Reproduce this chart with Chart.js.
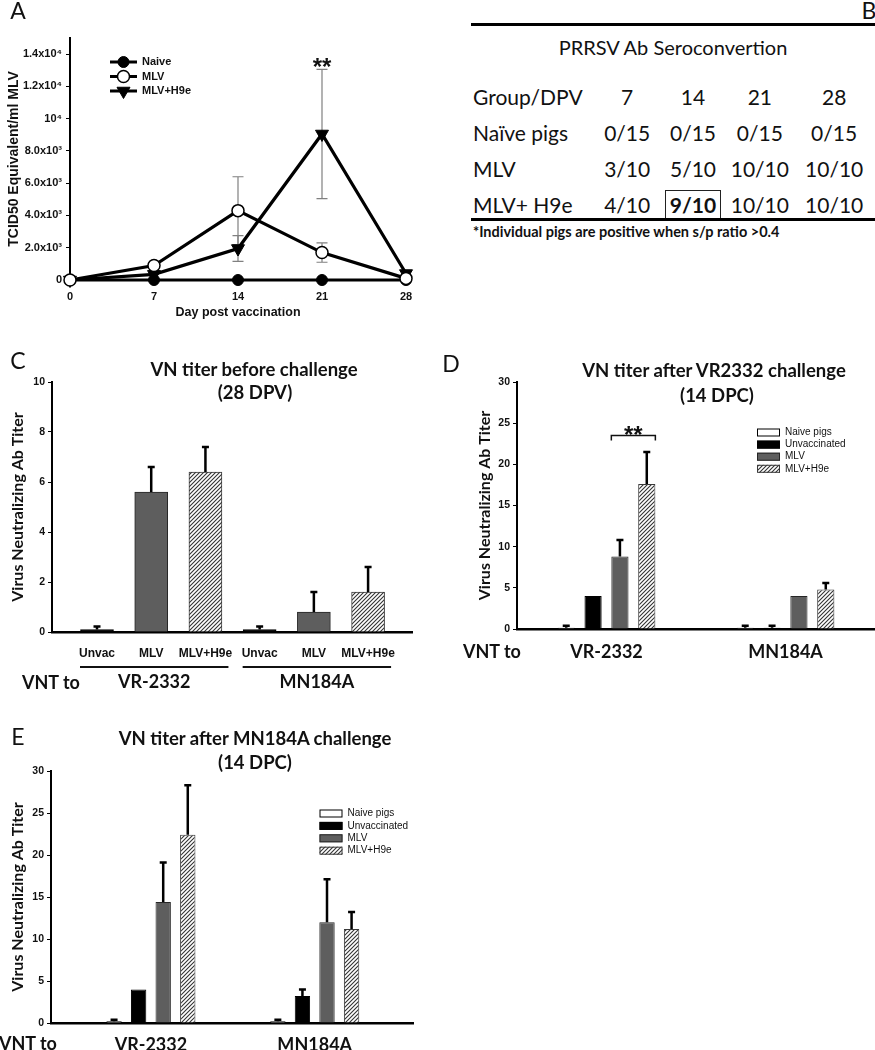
<!DOCTYPE html>
<html>
<head>
<meta charset="utf-8">
<script src="https://cdn.jsdelivr.net/npm/chart.js@4.4.1/dist/chart.umd.min.js"></script>
<style>
	body { margin: 0; background: #fff; }
	#page { position: relative; width: 875px; height: 1050px; overflow: hidden; background: #fff; }
	canvas { position: absolute; }
	.t { position: absolute; white-space: nowrap; transform: translate(-50%, -50%); line-height: 1; color: #111; font-family: Lato, "Open Sans", sans-serif; }
	.lt { transform: translate(0, -50%); }
	.letter { font-size: 23px; }
	.ttl { font-size: 18.5px; font-weight: bold; }
	.vnt { font-size: 18px; font-weight: bold; }
	.rule { position: absolute; background: #000; height: 3px; }
	#tblB { position: absolute; left: 471px; top: 79px; border-collapse: collapse; font-family: Lato, "Open Sans", sans-serif; font-size: 21px; color: #111; }
	#tblB td { height: 36px; padding: 0; text-align: center; line-height: 36px; }
	#tblB td.g { text-align: left; padding-left: 2px; }
	#tblB span.box { display: inline-block; border: 1.5px solid #222; padding: 0 4px; line-height: 28px; font-weight: bold; }
</style>
</head>
<body>
<div id="page">
	<canvas id="chartA" width="440" height="330" style="left:0;top:0"></canvas>
	<canvas id="chartC" width="440" height="360" style="left:0;top:340px"></canvas>
	<canvas id="chartD" width="435" height="360" style="left:440px;top:340px"></canvas>
	<canvas id="chartE" width="440" height="350" style="left:0;top:700px"></canvas>

	<div class="t letter" style="left:18px;top:10px">A</div>
	<div class="t letter" style="left:869px;top:10px">B</div>
	<div class="t letter" style="left:18px;top:360px">C</div>
	<div class="t letter" style="left:451px;top:363px">D</div>
	<div class="t letter" style="left:18px;top:736px">E</div>

	<div class="rule" style="left:471px;top:23px;width:404px"></div>
	<div class="t" style="left:673px;top:47px;font-size:20px">PRRSV Ab Seroconvertion</div>
	<table id="tblB">
		<colgroup><col style="width:124px"><col style="width:65px"><col style="width:67px"><col style="width:67px"><col style="width:82px"></colgroup>
		<tbody id="tblBody"></tbody>
	</table>
	<div class="rule" style="left:471px;top:218px;width:404px"></div>
	<div class="t lt" style="left:473px;top:232px;font-size:14.5px;font-weight:bold">*Individual pigs are positive when s/p ratio &gt;0.4</div>

	<div class="t ttl" style="left:254px;top:369px">VN titer before challenge</div>
	<div class="t ttl" style="left:255px;top:392px">(28 DPV)</div>
	<div class="t ttl" style="left:714px;top:370px">VN titer after VR2332 challenge</div>
	<div class="t ttl" style="left:717px;top:395px">(14 DPC)</div>
	<div class="t ttl" style="left:255px;top:738px">VN titer after MN184A challenge</div>
	<div class="t ttl" style="left:255px;top:762px">(14 DPC)</div>

	<div class="t lt vnt" style="left:22px;top:682px">VNT to</div>
	<div class="t lt vnt" style="left:463px;top:651px">VNT to</div>
	<div class="t lt vnt" style="left:-1px;top:1043px">VNT to</div>
</div>
<script>
	// ---- A: viremia after vaccination
	var aDays = [0, 7, 14, 21, 28];
	var aNaive = [0, 0, 0, 0, 0];
	var aMLV = [0, 900, 4300, 1700, 100];
	var aMLVErr = [0, 0, 2100, 600, 0];
	var aH9e = [0, 350, 1950, 9050, 400];
	var aH9eErr = [0, 0, 800, 4000, 0];
	var aYTicks = [0, 2000, 4000, 6000, 8000, 10000, 12000, 14000];
	var aYLabels = ['0', '2.0x10³', '4.0x10³', '6.0x10³', '8.0x10³', '10⁴', '1.2x10⁴', '1.4x10⁴'];

	// ---- B: seroconversion table
	var bDays = ['7', '14', '21', '28'];
	var bGroups = ['Naïve pigs', 'MLV', 'MLV+ H9e'];
	var bCounts = [
		['0/15', '0/15', '0/15', '0/15'],
		['3/10', '5/10', '10/10', '10/10'],
		['4/10', '9/10', '10/10', '10/10']
	];
	var bBoxed = [2, 1]; // row, column of the boxed cell

	// ---- C: VN titer before challenge
	var cLabels = ['Unvac', 'MLV', 'MLV+H9e', 'Unvac', 'MLV', 'MLV+H9e'];
	var cKinds = ['unvac', 'mlv', 'h9e', 'unvac', 'mlv', 'h9e'];
	var cGroups = ['VR-2332', 'MN184A'];
	var cValues = [0.1, 5.6, 6.4, 0.1, 0.8, 1.6];
	var cErrors = [0.12, 1.0, 1.0, 0.12, 0.8, 1.0];

	// ---- D: after VR2332 challenge
	var dGroups = ['VR-2332', 'MN184A'];
	var dNaive = [0.15, 0.15];
	var dNaiveErr = [0.25, 0.25];
	var dUnvac = [4.0, 0.15];
	var dUnvacErr = [0, 0.25];
	var dMLV = [8.8, 4.0];
	var dMLVErr = [2.0, 0];
	var dH9e = [17.6, 4.8];
	var dH9eErr = [3.9, 0.8];

	// ---- E: after MN184A challenge
	var eGroups = ['VR-2332', 'MN184A'];
	var eNaive = [0.2, 0.2];
	var eNaiveErr = [0.2, 0.2];
	var eUnvac = [4.0, 3.2];
	var eUnvacErr = [0, 0.8];
	var eMLV = [14.4, 12.0];
	var eMLVErr = [4.7, 5.1];
	var eH9e = [22.4, 11.2];
	var eH9eErr = [5.9, 2.0];

	var seriesNames = ['Naive pigs', 'Unvaccinated', 'MLV', 'MLV+H9e'];

	var tickFont = 'Arial, "Liberation Sans", sans-serif';
	var textFont = 'Lato, "Open Sans", sans-serif';

	Chart.defaults.animation = false;
	Chart.defaults.responsive = false;
	Chart.defaults.events = [];
	Chart.defaults.plugins.legend.display = false;
	Chart.defaults.plugins.tooltip.enabled = false;

	function makeHatch() {
		var c = document.createElement('canvas');
		c.width = 4;
		c.height = 4;
		var g = c.getContext('2d');
		g.fillStyle = '#fff';
		g.fillRect(0, 0, 4, 4);
		g.strokeStyle = '#333';
		g.lineWidth = 1.1;
		g.beginPath();
		g.moveTo(0, 4); g.lineTo(4, 0);
		g.moveTo(-1, 1); g.lineTo(1, -1);
		g.moveTo(3, 5); g.lineTo(5, 3);
		g.stroke();
		return g.createPattern(c, 'repeat');
	}

	var barStyles = {
		naive: { bg: '#ffffff', border: '#000000' },
		unvac: { bg: '#000000', border: '#000000' },
		mlv: { bg: '#5e5e5e', border: '#262626' },
		h9e: { bg: makeHatch(), border: '#3a3a3a' }
	};

	function val(d) {
		return (d !== null && typeof d === 'object') ? d.y : d;
	}

	// error bars: 'both' = thin grey whiskers (line chart), 'up' = thick black upper bar
	function drawErrors(chart, mode) {
		var ctx = chart.ctx, ys = chart.scales.y;
		chart.data.datasets.forEach(function (ds, di) {
			if (!ds.errors || ds.errorMode !== mode) return;
			var meta = chart.getDatasetMeta(di);
			ctx.save();
			ctx.strokeStyle = mode === 'both' ? '#808080' : '#000';
			ctx.lineWidth = mode === 'both' ? 1.2 : 2.5;
			var cap = mode === 'both' ? 5.5 : 3.5;
			meta.data.forEach(function (el, i) {
				var e = ds.errors[i];
				if (!e) return;
				var v = val(ds.data[i]);
				var top = ys.getPixelForValue(v + e);
				var bot = ys.getPixelForValue(mode === 'both' ? v - e : v);
				ctx.beginPath();
				ctx.moveTo(el.x, top); ctx.lineTo(el.x, bot);
				ctx.moveTo(el.x - cap, top); ctx.lineTo(el.x + cap, top);
				if (mode === 'both') {
					ctx.moveTo(el.x - cap, bot); ctx.lineTo(el.x + cap, bot);
				}
				ctx.stroke();
			});
			ctx.restore();
		});
	}

	var errorBars = {
		id: 'errorBars',
		beforeDatasetsDraw: function (chart) { drawErrors(chart, 'both'); },
		afterDatasetsDraw: function (chart) { drawErrors(chart, 'up'); }
	};

	function drawStars(ctx, x, y) {
		ctx.save();
		ctx.fillStyle = '#111';
		ctx.font = 'bold 24px ' + tickFont;
		ctx.textAlign = 'center';
		ctx.textBaseline = 'alphabetic';
		ctx.fillText('**', x, y + 13.8);
		ctx.restore();
	}

	var barLegend = {
		id: 'barLegend',
		afterDraw: function (chart, args, opts) {
			var ctx = chart.ctx;
			ctx.save();
			ctx.font = '10px ' + tickFont;
			ctx.textBaseline = 'middle';
			chart.data.datasets.forEach(function (ds, i) {
				var y = opts.top + i * opts.gap;
				ctx.fillStyle = ds.backgroundColor;
				ctx.fillRect(opts.left, y - 4, 23, 8);
				ctx.strokeStyle = ds.borderColor;
				ctx.lineWidth = 1;
				ctx.strokeRect(opts.left + 0.5, y - 3.5, 22, 7);
				ctx.fillStyle = '#111';
				ctx.fillText(ds.label, opts.left + 28, y);
			});
			ctx.restore();
		}
	};

	function yAxis(max, step, width, title, titlePad) {
		return {
			min: 0,
			max: max,
			ticks: { stepSize: step, padding: 3, color: '#111', font: { family: tickFont, weight: 'bold', size: 10.5 } },
			grid: { drawOnChartArea: false, tickLength: 4, tickColor: '#000', color: '#000' },
			border: { color: '#000', width: 2 },
			title: {
				display: true, text: title, color: '#111',
				font: { family: textFont, weight: 'bold', size: 16 },
				padding: { top: titlePad, bottom: 0 }
			},
			afterFit: function (s) { s.width = width; }
		};
	}

	function barSet(label, kind, values, errs, asPoints) {
		return {
			label: label,
			data: asPoints ? values.map(function (v, i) { return { x: i + 1, y: v }; }) : values,
			errors: errs,
			errorMode: 'up',
			backgroundColor: barStyles[kind].bg,
			borderColor: barStyles[kind].border,
			borderWidth: 1
		};
	}

	// ================= A =================
	function pts(values) {
		return aDays.map(function (d, i) { return { x: d, y: values[i] }; });
	}

	var aLegend = {
		id: 'aLegend',
		afterDraw: function (chart, args, opts) {
			var ctx = chart.ctx;
			ctx.save();
			ctx.font = 'bold 11px ' + tickFont;
			ctx.textBaseline = 'middle';
			chart.data.datasets.forEach(function (ds, i) {
				var y = opts.top + i * opts.gap;
				ctx.strokeStyle = '#000';
				ctx.lineWidth = 3;
				ctx.beginPath();
				ctx.moveTo(opts.left, y);
				ctx.lineTo(opts.left + 27, y);
				ctx.stroke();
				ctx.fillStyle = ds.pointBackgroundColor;
				ctx.strokeStyle = ds.pointBorderColor;
				ctx.lineWidth = ds.pointBorderWidth;
				Chart.helpers.drawPoint(ctx, {
					pointStyle: ds.pointStyle, rotation: ds.pointRotation || 0,
					radius: ds.pointRadius, borderWidth: ds.pointBorderWidth
				}, opts.left + 13.5, y);
				ctx.fillStyle = '#111';
				ctx.fillText(ds.label, opts.left + 32, y);
			});
			ctx.restore();
		}
	};

	var aStars = {
		id: 'aStars',
		afterDraw: function (chart) {
			var x = chart.scales.x.getPixelForValue(aDays[3]);
			var capY = chart.scales.y.getPixelForValue(aH9e[3] + aH9eErr[3]);
			drawStars(chart.ctx, x, capY - 8);
		}
	};

	new Chart(document.getElementById('chartA'), {
		type: 'line',
		data: {
			datasets: [
				{
					label: 'Naive', data: pts(aNaive), order: 1, clip: false,
					borderColor: '#000', borderWidth: 3.2,
					pointStyle: 'circle', pointRadius: 5.5, pointBackgroundColor: '#000',
					pointBorderColor: '#000', pointBorderWidth: 1
				},
				{
					label: 'MLV', data: pts(aMLV), errors: aMLVErr, errorMode: 'both', order: 0, clip: false,
					borderColor: '#000', borderWidth: 3.2,
					pointStyle: 'circle', pointRadius: 6, pointBackgroundColor: '#fff',
					pointBorderColor: '#000', pointBorderWidth: 1.5
				},
				{
					label: 'MLV+H9e', data: pts(aH9e), errors: aH9eErr, errorMode: 'both', order: 2, clip: false,
					borderColor: '#000', borderWidth: 3.2,
					pointStyle: 'triangle', pointRotation: 180, pointRadius: 7.5, pointBackgroundColor: '#000',
					pointBorderColor: '#000', pointBorderWidth: 1
				}
			]
		},
		options: {
			layout: { padding: { left: 0, top: 38, right: 34, bottom: 0 } },
			scales: {
				x: {
					type: 'linear', min: 0, max: 28,
					ticks: { stepSize: 7, padding: 2.5, color: '#111', font: { family: tickFont, weight: 'bold', size: 11 } },
					grid: { display: false },
					border: { color: '#000', width: 2 },
					title: {
						display: true, text: 'Day post vaccination', color: '#111',
						font: { family: tickFont, weight: 'bold', size: 12.5 }, padding: { top: 0, bottom: 10 }
					},
					afterFit: function (s) { s.height = 50; }
				},
				y: {
					min: 0, max: 15000,
					afterBuildTicks: function (s) { s.ticks = aYTicks.map(function (v) { return { value: v }; }); },
					ticks: {
						padding: 4, color: '#111', font: { family: tickFont, weight: 'bold', size: 11 },
						callback: function (v) { return aYLabels[aYTicks.indexOf(v)]; }
					},
					grid: { drawOnChartArea: false, tickLength: 4, tickColor: '#000', color: '#000' },
					border: { color: '#000', width: 2 },
					title: {
						display: true, text: 'TCID50 Equivalent/ml MLV', color: '#111',
						font: { family: tickFont, weight: 'bold', size: 14 }, padding: { top: 6, bottom: 0 }
					},
					afterFit: function (s) { s.width = 70; }
				}
			},
			plugins: { aLegend: { left: 110, top: 62, gap: 14.5 } }
		},
		plugins: [errorBars, aLegend, aStars]
	});

	// ================= B =================
	var body = document.getElementById('tblBody');
	var head = '<tr><td class="g">Group/DPV</td>' + bDays.map(function (d) { return '<td>' + d + '</td>'; }).join('') + '</tr>';
	var rows = bGroups.map(function (g, r) {
		return '<tr><td class="g">' + g + '</td>' + bCounts[r].map(function (c, k) {
			if (r === bBoxed[0] && k === bBoxed[1]) return '<td><span class="box">' + c + '</span></td>';
			return '<td>' + c + '</td>';
		}).join('') + '</tr>';
	});
	body.innerHTML = head + rows.join('');

	// ================= C =================
	var cGroupLines = {
		id: 'cGroupLines',
		afterDraw: function (chart) {
			var ctx = chart.ctx, xs = chart.scales.x;
			ctx.save();
			ctx.strokeStyle = '#111';
			ctx.fillStyle = '#111';
			ctx.lineWidth = 2;
			ctx.font = 'bold 18px ' + textFont;
			ctx.textAlign = 'center';
			ctx.textBaseline = 'middle';
			cGroups.forEach(function (g, k) {
				var x1 = xs.getPixelForValue(3 * k + 1) - 17;
				var x2 = xs.getPixelForValue(3 * k + 3) + 23;
				var yLine = chart.chartArea.bottom + 35;
				ctx.beginPath();
				ctx.moveTo(x1, yLine);
				ctx.lineTo(x2, yLine);
				ctx.stroke();
				ctx.fillText(g, (x1 + x2) / 2, yLine + 15);
			});
			ctx.restore();
		}
	};

	new Chart(document.getElementById('chartC'), {
		type: 'bar',
		data: {
			datasets: [{
				label: 'VN titer',
				data: cValues.map(function (v, i) { return { x: i + 1, y: v }; }),
				errors: cErrors,
				errorMode: 'up',
				backgroundColor: cKinds.map(function (k) { return barStyles[k].bg; }),
				borderColor: cKinds.map(function (k) { return barStyles[k].border; }),
				borderWidth: 1,
				barThickness: 33
			}]
		},
		options: {
			layout: { padding: { left: 0, top: 42, right: 28, bottom: 0 } },
			scales: {
				x: {
					type: 'linear', min: 0.17, max: 6.81, offset: false,
					afterBuildTicks: function (s) { s.ticks = cLabels.map(function (l, i) { return { value: i + 1 }; }); },
					ticks: {
						autoSkip: false, maxRotation: 0, padding: 6, color: '#111',
						font: { family: tickFont, weight: 'bold', size: 12 },
						callback: function (v, i) { return cLabels[i]; }
					},
					grid: { display: false },
					border: { color: '#000', width: 2.5 },
					afterFit: function (s) { s.height = 68; }
				},
				y: yAxis(10, 2, 52, 'Virus Neutralizing Ab Titer', 8.7)
			}
		},
		plugins: [errorBars, cGroupLines]
	});

	// ================= D =================
	var dStars = {
		id: 'dStars',
		afterDatasetsDraw: function (chart) {
			var ctx = chart.ctx;
			var a = chart.getDatasetMeta(2).data[0], b = chart.getDatasetMeta(3).data[0];
			var x1 = a.x - a.width / 2, x2 = b.x + b.width / 2;
			var y = chart.scales.y.getPixelForValue(23.5);
			ctx.save();
			ctx.strokeStyle = '#111';
			ctx.lineWidth = 1.5;
			ctx.beginPath();
			ctx.moveTo(x1, y + 5); ctx.lineTo(x1, y); ctx.lineTo(x2, y); ctx.lineTo(x2, y + 5);
			ctx.stroke();
			ctx.restore();
			drawStars(ctx, (x1 + x2) / 2, y - 6);
		}
	};

	new Chart(document.getElementById('chartD'), {
		type: 'bar',
		data: {
			labels: dGroups,
			datasets: [
				barSet(seriesNames[0], 'naive', dNaive, dNaiveErr),
				barSet(seriesNames[1], 'unvac', dUnvac, dUnvacErr),
				barSet(seriesNames[2], 'mlv', dMLV, dMLVErr),
				barSet(seriesNames[3], 'h9e', dH9e, dH9eErr)
			]
		},
		options: {
			categoryPercentage: 0.6,
			barPercentage: 0.64,
			layout: { padding: { left: 25, top: 42, right: 0, bottom: 0 } },
			scales: {
				x: {
					ticks: { padding: 3.9, color: '#111', font: { family: textFont, weight: 'bold', size: 18 } },
					grid: { display: false },
					border: { color: '#000', width: 2.5 },
					afterFit: function (s) { s.height = 71; }
				},
				y: yAxis(30, 5, 52, 'Virus Neutralizing Ab Titer', 10.4)
			},
			plugins: { barLegend: { left: 317, top: 92.5, gap: 12.1 } }
		},
		plugins: [errorBars, barLegend, dStars]
	});

	// ================= E =================
	new Chart(document.getElementById('chartE'), {
		type: 'bar',
		data: {
			datasets: [
				barSet(seriesNames[0], 'naive', eNaive, eNaiveErr, true),
				barSet(seriesNames[1], 'unvac', eUnvac, eUnvacErr, true),
				barSet(seriesNames[2], 'mlv', eMLV, eMLVErr, true),
				barSet(seriesNames[3], 'h9e', eH9e, eH9eErr, true)
			]
		},
		options: {
			categoryPercentage: 0.6,
			barPercentage: 0.625,
			layout: { padding: { left: 0, top: 71, right: 27, bottom: 0 } },
			scales: {
				x: {
					type: 'linear', min: 0.39, max: 2.6, offset: false,
					afterBuildTicks: function (s) { s.ticks = eGroups.map(function (g, i) { return { value: i + 1 }; }); },
					ticks: {
						autoSkip: false, maxRotation: 0, padding: 3, color: '#111',
						font: { family: textFont, weight: 'bold', size: 18 },
						callback: function (v, i) { return eGroups[i]; }
					},
					grid: { display: false },
					border: { color: '#000', width: 2.5 },
					afterFit: function (s) { s.height = 27; }
				},
				y: yAxis(30, 5, 51, 'Virus Neutralizing Ab Titer', 8.7)
			},
			plugins: { barLegend: { left: 319.5, top: 113.5, gap: 12.4 } }
		},
		plugins: [errorBars, barLegend]
	});
</script>
</body>
</html>
